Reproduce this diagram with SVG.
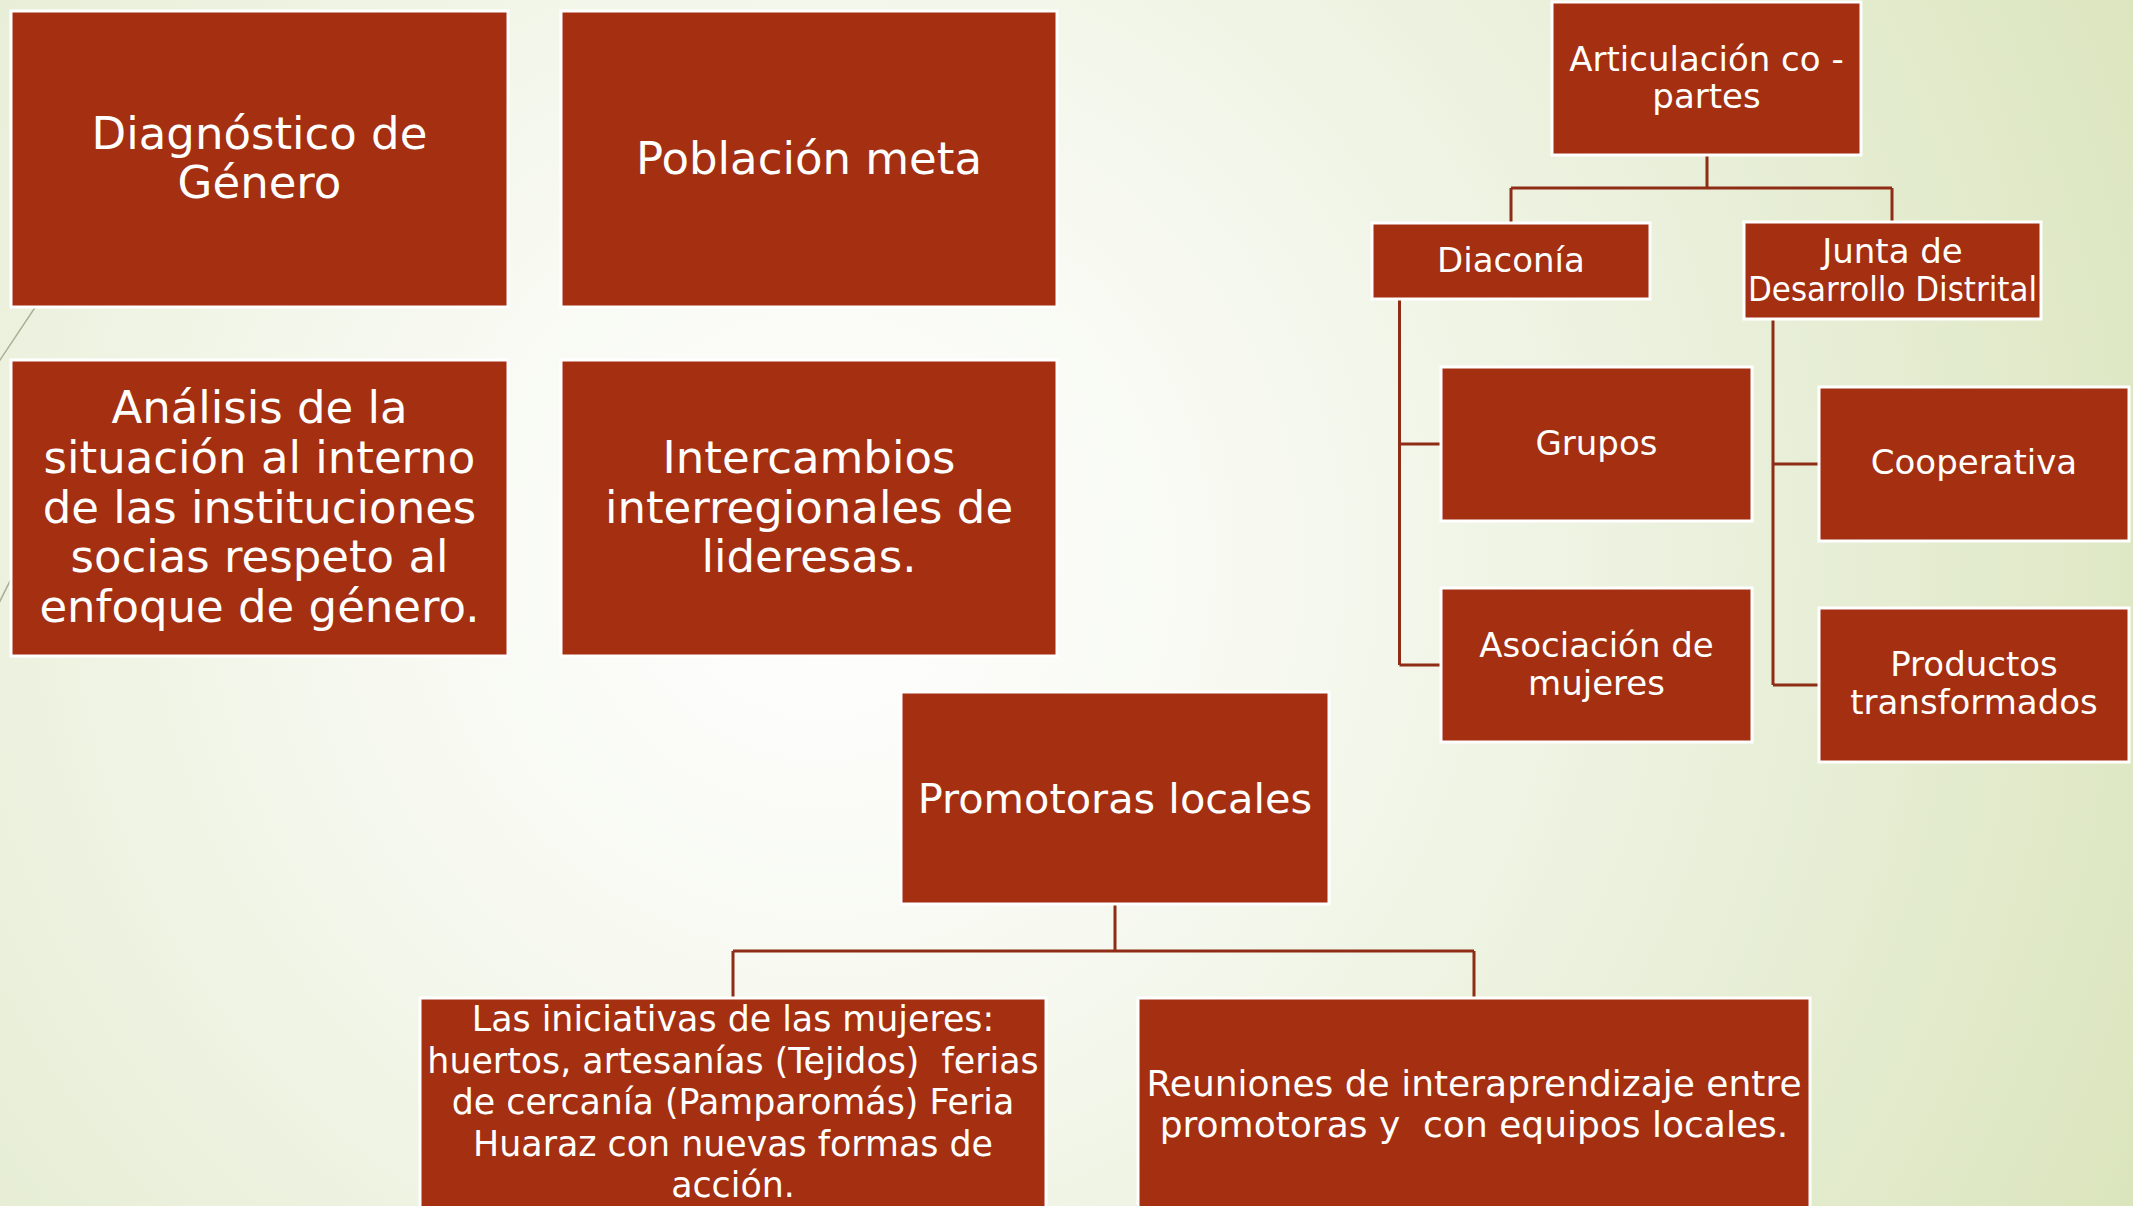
<svg xmlns="http://www.w3.org/2000/svg" width="2133" height="1206" viewBox="0 0 2133 1206">
<defs>
<radialGradient id="bg" cx="820" cy="560" r="1450" gradientUnits="userSpaceOnUse">
<stop offset="0" stop-color="#ffffff"/>
<stop offset="0.3" stop-color="#f7f9f1"/>
<stop offset="0.7" stop-color="#e7eed6"/>
<stop offset="1" stop-color="#dbe5bd"/>
</radialGradient>
<style>
.box{fill:#a42f11;stroke:#ffffff;stroke-width:3}
.t{fill:#ffffff;font-family:"DejaVu Sans","Noto Sans",sans-serif;text-anchor:middle;white-space:pre}
.l{font-size:45px}
.m{font-size:34px}
.p{font-size:41.5px}
.s{font-size:34.8px}
.r{font-size:36px}
.c{fill:none;stroke:#8e2c16;stroke-width:3}
.deco{stroke:#a9ad97;stroke-width:1.5;fill:none}
</style>
</defs>
<rect x="0" y="0" width="2133" height="1206" fill="url(#bg)"/>
<g id="decoration">
<line class="deco" x1="-10" y1="375" x2="60" y2="270"/>
<line class="deco" x1="-5" y1="611" x2="30" y2="541"/>
</g>
<g id="connectors">
<path class="c" d="M1707,155 V188 M1511,188 H1892 M1511,188 V222 M1892,188 V222"/>
<path class="c" d="M1399.5,299 V665 M1399.5,444 H1441 M1399.5,665 H1441"/>
<path class="c" d="M1773,319 V685 M1773,464 H1819 M1773,685 H1819"/>
<path class="c" d="M1115,904 V951 M733,951 H1474 M733,951 V998 M1474,951 V998"/>
</g>
<g id="n-diagnostico">
<rect class="box" x="11" y="11" width="497" height="296"/>
<text class="t l" x="259.5" y="149">Diagnóstico de</text>
<text class="t l" x="259.5" y="198">Género</text>
</g>
<g id="n-poblacion">
<rect class="box" x="561" y="11" width="496" height="296"/>
<text class="t l" x="809" y="173.5">Población meta</text>
</g>
<g id="n-analisis">
<rect class="box" x="11" y="360" width="497" height="296"/>
<text class="t l" x="259.5" y="423">Análisis de la</text>
<text class="t l" x="259.5" y="473">situación al interno</text>
<text class="t l" x="259.5" y="523">de las instituciones</text>
<text class="t l" x="259.5" y="572">socias respeto al</text>
<text class="t l" x="259.5" y="622">enfoque de género.</text>
</g>
<g id="n-intercambios">
<rect class="box" x="561" y="360" width="496" height="296"/>
<text class="t l" x="809" y="473">Intercambios</text>
<text class="t l" x="809" y="522.5">interregionales de</text>
<text class="t l" x="809" y="572">lideresas.</text>
</g>
<g id="n-articulacion">
<rect class="box" x="1552" y="2" width="309" height="153"/>
<text class="t m" x="1706.5" y="71">Articulación co -</text>
<text class="t m" x="1706.5" y="108">partes</text>
</g>
<g id="n-diaconia">
<rect class="box" x="1372" y="223" width="278" height="76"/>
<text class="t m" x="1511" y="272">Diaconía</text>
</g>
<g id="n-junta">
<rect class="box" x="1744" y="222" width="297" height="97"/>
<text class="t m" x="1892.5" y="263">Junta de</text>
<text class="t m" x="1892.5" y="301" textLength="289" lengthAdjust="spacingAndGlyphs">Desarrollo Distrital</text>
</g>
<g id="n-grupos">
<rect class="box" x="1441" y="367" width="311" height="154"/>
<text class="t m" x="1596.5" y="455">Grupos</text>
</g>
<g id="n-asociacion">
<rect class="box" x="1441" y="588" width="311" height="154"/>
<text class="t m" x="1596.5" y="657">Asociación de</text>
<text class="t m" x="1596.5" y="695">mujeres</text>
</g>
<g id="n-cooperativa">
<rect class="box" x="1819" y="387" width="310" height="154"/>
<text class="t m" x="1974" y="474">Cooperativa</text>
</g>
<g id="n-productos">
<rect class="box" x="1819" y="608" width="310" height="154"/>
<text class="t m" x="1974" y="676">Productos</text>
<text class="t m" x="1974" y="714">transformados</text>
</g>
<g id="n-promotoras">
<rect class="box" x="901" y="692" width="428" height="212"/>
<text class="t p" x="1115" y="813">Promotoras locales</text>
</g>
<g id="n-iniciativas">
<rect class="box" x="420" y="998" width="626" height="222"/>
<text class="t s" x="733" y="1031">Las iniciativas de las mujeres:</text>
<text class="t s" x="733" y="1072.5">huertos, artesanías (Tejidos)  ferias</text>
<text class="t s" x="733" y="1114">de cercanía (Pamparomás) Feria</text>
<text class="t s" x="733" y="1155.5">Huaraz con nuevas formas de</text>
<text class="t s" x="733" y="1197">acción.</text>
</g>
<g id="n-reuniones">
<rect class="box" x="1138" y="998" width="672" height="222"/>
<text class="t r" x="1474" y="1096">Reuniones de interaprendizaje entre</text>
<text class="t r" x="1474" y="1137">promotoras y  con equipos locales.</text>
</g>
</svg>
